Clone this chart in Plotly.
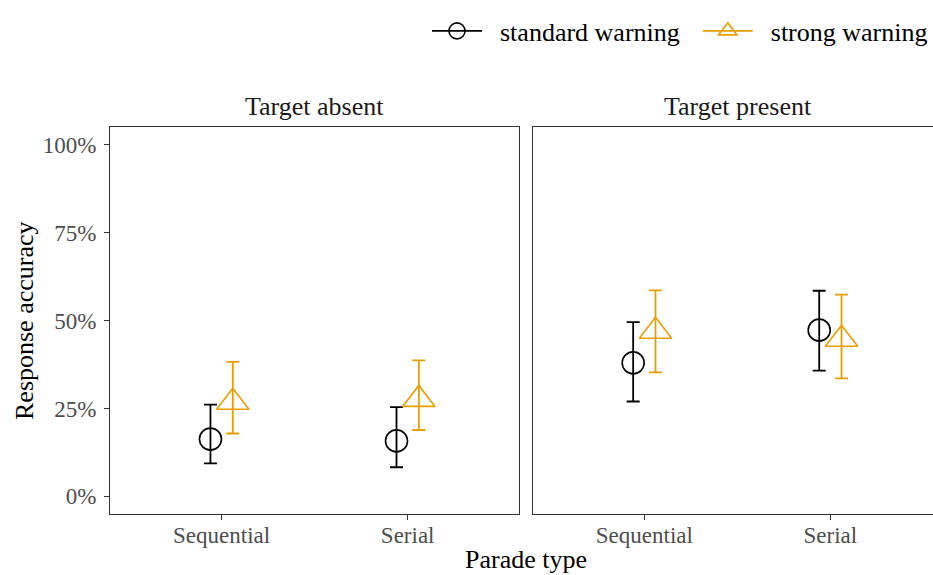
import plotly.graph_objects as go

# ---- data (proportions) ----
parade_types = ["Sequential", "Serial"]
panels = ["Target absent", "Target present"]
warnings = ["standard warning", "strong warning"]

# Target absent
absent_standard_mean = [0.163, 0.158]
absent_standard_low = [0.094, 0.083]
absent_standard_high = [0.261, 0.254]
absent_strong_mean = [0.268, 0.276]
absent_strong_low = [0.179, 0.189]
absent_strong_high = [0.383, 0.387]

# Target present
present_standard_mean = [0.380, 0.473]
present_standard_low = [0.270, 0.358]
present_standard_high = [0.496, 0.585]
present_strong_mean = [0.470, 0.447]
present_strong_low = [0.353, 0.336]
present_strong_high = [0.586, 0.574]

y_ticks = [0, 0.25, 0.5, 0.75, 1.0]
y_tick_labels = ["0%", "25%", "50%", "75%", "100%"]

colors = {"standard warning": "#000000", "strong warning": "#E69F00"}
symbols = {"standard warning": "circle-open", "strong warning": "triangle-up-open"}
sizes = {"standard warning": 22, "strong warning": 28}
dodge = {"standard warning": -0.06, "strong warning": 0.06}
legend_names = {"standard warning": "\u00a0\u00a0standard warning\u00a0\u00a0",
                "strong warning": "\u00a0\u00a0strong warning"}

FONT = "Liberation Serif"
W, H = 933, 575

data = {
    ("Target absent", "standard warning"): (absent_standard_mean, absent_standard_low, absent_standard_high),
    ("Target absent", "strong warning"): (absent_strong_mean, absent_strong_low, absent_strong_high),
    ("Target present", "standard warning"): (present_standard_mean, present_standard_low, present_standard_high),
    ("Target present", "strong warning"): (present_strong_mean, present_strong_low, present_strong_high),
}

fig = go.Figure()
axes = {"Target absent": ("x", "y"), "Target present": ("x2", "y2")}
xpos = [1, 2]

for panel in panels:
    xa, ya = axes[panel]
    for w in warnings:
        m, lo, hi = data[(panel, w)]
        fig.add_trace(go.Scatter(
            x=[p + dodge[w] for p in xpos], y=m, xaxis=xa, yaxis=ya,
            mode="markers", showlegend=False,
            marker=dict(symbol=symbols[w], size=sizes[w], color=colors[w],
                        line=dict(width=1.6, color=colors[w])),
            error_y=dict(type="data", symmetric=False,
                         array=[h - v for h, v in zip(hi, m)],
                         arrayminus=[v - l for v, l in zip(m, lo)],
                         color=colors[w], thickness=1.8, width=6.5),
        ))

# legend entries
for w in warnings:
    fig.add_trace(go.Scatter(
        x=[None], y=[None], mode="lines+markers", name=legend_names[w],
        line=dict(color=colors[w], width=1.8),
        marker=dict(symbol=symbols[w], size=sizes[w], color=colors[w],
                    line=dict(width=1.6, color=colors[w])),
    ))

def px_x(p):
    return p / W

def px_y(p):
    return 1 - p / H

left_dom = [px_x(110), px_x(519.3)]
right_dom = [px_x(532.7), 1.0]
y_dom = [px_y(514), px_y(127.3)]
unit = (519.3 - 110) / 2.2
right_max = 0.4 + (W - 532.7) / unit

common_x = dict(
    tickmode="array", tickvals=xpos, ticktext=parade_types,
    showgrid=False, zeroline=False, showline=True, mirror=True,
    linecolor="#333333", linewidth=1, ticks="outside", ticklen=5,
    tickcolor="#333333", tickwidth=1, ticklabelstandoff=-5,
    tickfont=dict(family=FONT, size=23, color="#4D4D4D"),
    automargin=False, fixedrange=True,
)
fig.update_layout(
    width=W, height=H,
    margin=dict(l=0, r=0, t=0, b=0),
    paper_bgcolor="white", plot_bgcolor="white",
    font=dict(family=FONT, size=26, color="black"),
    xaxis=dict(domain=left_dom, range=[0.4, 2.6], anchor="y", **common_x),
    xaxis2=dict(domain=right_dom, range=[0.4, right_max], anchor="y2", **common_x),
    yaxis=dict(domain=y_dom, range=[-0.05, 1.05], anchor="x",
               tickmode="array", tickvals=y_ticks, ticktext=y_tick_labels,
               showgrid=False, zeroline=False, showline=True, mirror=True,
               linecolor="#333333", linewidth=1, ticks="outside", ticklen=5,
               tickcolor="#333333", tickwidth=1, ticklabelstandoff=3,
               tickfont=dict(family=FONT, size=23, color="#4D4D4D"),
               automargin=False),
    yaxis2=dict(domain=y_dom, range=[-0.05, 1.05], anchor="x2",
                showticklabels=False, ticks="", showgrid=False, zeroline=False,
                showline=True, mirror=False, linecolor="#333333", linewidth=1,
                automargin=False),
    showlegend=True,
    legend=dict(orientation="h", x=1.0, xanchor="right", y=px_y(31), yanchor="middle",
                font=dict(family=FONT, size=26, color="black"),
                itemwidth=50, bgcolor="rgba(0,0,0,0)", tracegroupgap=0),
    annotations=[
        dict(text="Target absent", x=(left_dom[0] + left_dom[1]) / 2, y=px_y(106),
             xref="paper", yref="paper", showarrow=False, xanchor="center", yanchor="middle",
             font=dict(family=FONT, size=26, color="#1A1A1A")),
        dict(text="Target present", x=(right_dom[0] + px_x(943)) / 2, y=px_y(106),
             xref="paper", yref="paper", showarrow=False, xanchor="center", yanchor="middle",
             font=dict(family=FONT, size=26, color="#1A1A1A")),
        dict(text="Parade type", x=px_x(526), y=px_y(559),
             xref="paper", yref="paper", showarrow=False, xanchor="center", yanchor="middle",
             font=dict(family=FONT, size=26, color="black")),
        dict(text="Response accuracy", x=px_x(24), y=px_y(321), textangle=-90,
             xref="paper", yref="paper", showarrow=False, xanchor="center", yanchor="middle",
             font=dict(family=FONT, size=26, color="black")),
    ],
)

fig.write_html("out.html")
